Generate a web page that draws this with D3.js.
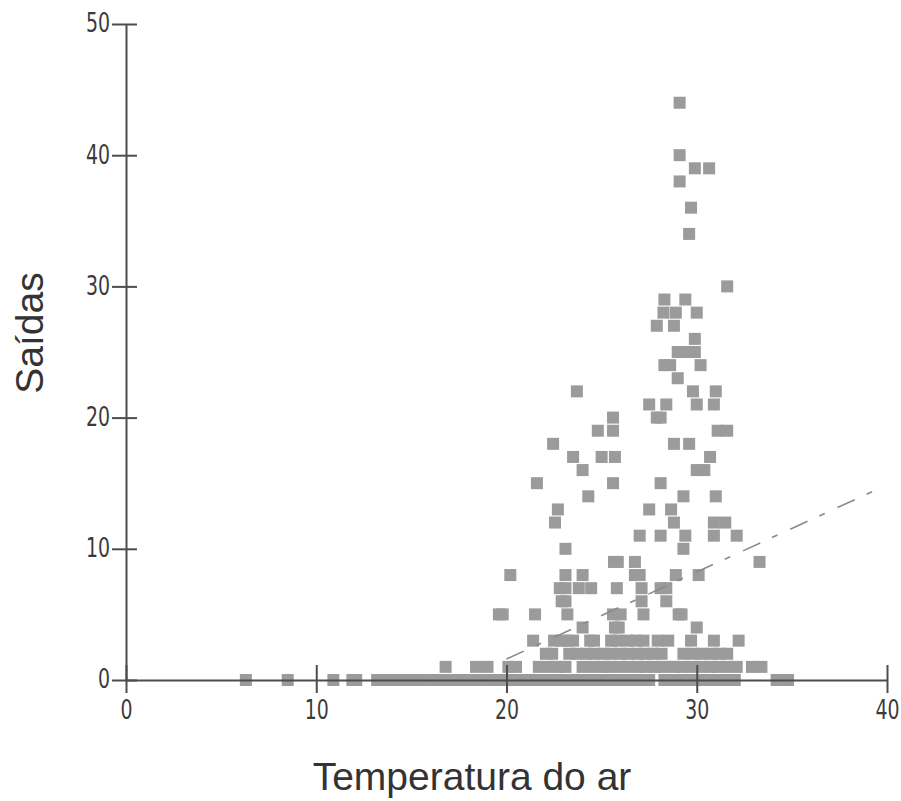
<!DOCTYPE html>
<html>
<head>
<meta charset="utf-8">
<script src="https://cdn.jsdelivr.net/npm/d3@7"></script>
<style>
  body { margin: 0; background: #fff; }
</style>
</head>
<body>
<div id="chart"></div>
<script>
// Pontos: [temperatura do ar, saídas]
const pontos = [
  // saídas = 0
  [6.3, 0], [8.5, 0], [10.9, 0], [11.9, 0], [12.1, 0], [13.2, 0], [13.6, 0], [14.1, 0], [14.7, 0],
  [15.1, 0], [15.6, 0], [16.2, 0], [16.6, 0], [17.1, 0], [17.7, 0], [18.1, 0], [18.6, 0], [19.2, 0],
  [19.6, 0], [20.1, 0], [20.7, 0], [21.1, 0], [21.6, 0], [22.2, 0], [22.6, 0], [23.1, 0], [23.7, 0],
  [24.1, 0], [24.6, 0], [25.2, 0], [25.6, 0], [26.1, 0], [26.7, 0], [27.1, 0], [27.5, 0], [28.3, 0],
  [28.7, 0], [29.2, 0], [29.8, 0], [30.2, 0], [30.7, 0], [31.2, 0], [31.6, 0], [32.0, 0], [34.2, 0],
  [34.8, 0],
  // saídas = 1
  [16.8, 1], [18.4, 1], [19.0, 1], [20.1, 1], [20.5, 1], [21.7, 1], [22.2, 1], [22.7, 1], [23.1, 1],
  [24.0, 1], [24.5, 1], [25.0, 1], [25.4, 1], [25.9, 1], [26.4, 1], [26.9, 1], [27.3, 1], [27.8, 1],
  [28.3, 1], [28.8, 1], [29.2, 1], [29.7, 1], [30.2, 1], [30.7, 1], [31.1, 1], [31.6, 1], [32.1, 1],
  [32.9, 1], [33.4, 1],
  // saídas = 2
  [22.07, 2], [22.4, 2], [23.3, 2], [23.7, 2], [24.2, 2], [24.6, 2], [25.1, 2], [25.5, 2], [26.0, 2],
  [26.4, 2], [26.9, 2], [27.3, 2], [27.7, 2], [28.15, 2], [29.3, 2], [29.8, 2], [30.3, 2], [30.8, 2],
  [31.2, 2], [31.6, 2],
  // saídas = 3
  [21.4, 3], [22.5, 3], [22.9, 3], [23.2, 3], [23.5, 3], [24.4, 3], [24.6, 3], [25.5, 3], [25.8, 3],
  [26.35, 3], [26.8, 3], [27.2, 3], [27.95, 3], [28.5, 3], [29.7, 3], [30.9, 3], [32.2, 3],
  // saídas 4 a 9
  [24.0, 4], [25.7, 4], [25.9, 4], [30.0, 4],
  [19.6, 5], [19.8, 5], [21.5, 5], [23.2, 5], [25.6, 5], [26.0, 5], [27.2, 5], [29.05, 5], [29.2, 5],
  [22.9, 6], [23.1, 6], [27.1, 6], [28.4, 6],
  [22.8, 7], [23.1, 7], [23.8, 7], [24.45, 7], [25.8, 7], [27.1, 7], [28.1, 7], [28.4, 7],
  [20.2, 8], [23.1, 8], [24.0, 8], [26.75, 8], [27.0, 8], [28.9, 8], [30.1, 8],
  [25.65, 9], [25.85, 9], [26.75, 9], [33.3, 9],
  // saídas 10 a 19
  [23.1, 10], [29.3, 10],
  [27.0, 11], [28.1, 11], [29.4, 11], [30.9, 11], [32.1, 11],
  [22.55, 12], [28.8, 12], [30.9, 12], [31.5, 12],
  [22.7, 13], [27.5, 13], [28.65, 13],
  [24.3, 14], [29.3, 14], [31.0, 14],
  [21.6, 15], [25.6, 15], [28.1, 15],
  [24.0, 16], [30.0, 16], [30.4, 16],
  [23.5, 17], [25.0, 17], [25.7, 17], [30.7, 17],
  [22.45, 18], [28.8, 18], [29.6, 18],
  [24.8, 19], [25.6, 19], [31.1, 19], [31.6, 19],
  // saídas 20 a 44
  [25.6, 20], [27.9, 20], [28.1, 20],
  [27.5, 21], [28.4, 21], [30.0, 21], [30.9, 21],
  [23.7, 22], [29.8, 22], [31.0, 22],
  [29.0, 23],
  [28.3, 24], [28.6, 24], [30.2, 24],
  [29.0, 25], [29.3, 25], [29.9, 25],
  [29.9, 26],
  [27.9, 27], [28.8, 27],
  [28.25, 28], [28.9, 28], [30.0, 28],
  [28.3, 29], [29.4, 29],
  [31.6, 30],
  [29.6, 34], [29.7, 36], [29.1, 38], [29.9, 39], [30.65, 39], [29.1, 40], [29.1, 44]
];

// Reta de tendência (extremos)
const tendencia = [[20, 1.6], [39.6, 14.6]];

const xTicks = [0, 10, 20, 30, 40];
const yTicks = [0, 10, 20, 30, 40, 50];
const tituloX = "Temperatura do ar";
const tituloY = "Saídas";

// Dimensões
const width = 901;
const height = 801;
const margin = { left: 126, top: 24, right: 14, bottom: 121 };

const svg = d3.select("#chart").append("svg")
    .attr("width", width)
    .attr("height", height);

const x = d3.scaleLinear()
    .domain([0, 40])
    .range([margin.left, width - margin.right]);

const y = d3.scaleLinear()
    .domain([0, 50])
    .range([height - margin.bottom, margin.top]);

const fonteTicks = "'Liberation Sans Narrow', 'Arial Narrow', 'DejaVu Sans Condensed', sans-serif";
const esticar = 1.25; // os números do original são altos e estreitos

// Pontos (quadrados)
const lado = 12;
svg.append("g")
    .selectAll("rect")
    .data(pontos)
    .enter()
    .append("rect")
    .attr("x", d => x(d[0]) - lado / 2)
    .attr("y", d => y(d[1]) - lado / 2)
    .attr("width", lado)
    .attr("height", lado)
    .attr("fill", "#9b9b9b");

// Linha de tendência
svg.append("path")
    .datum(tendencia)
    .attr("d", d3.line().x(d => x(d[0])).y(d => y(d[1])))
    .attr("fill", "none")
    .attr("stroke", "#8a8a8a")
    .attr("stroke-width", 1.6)
    .attr("stroke-dasharray", "19,13,6,14");

// Eixo X
const gx = svg.append("g")
    .attr("transform", `translate(0, ${y(0)})`)
    .call(d3.axisBottom(x).tickValues(xTicks).tickSize(13).tickSizeOuter(0));

gx.selectAll(".tick line").attr("y1", -15);
gx.selectAll(".tick text")
    .attr("y", 39 / esticar)
    .attr("dy", 0);

// Eixo Y
const gy = svg.append("g")
    .attr("transform", `translate(${x(0)}, 0)`)
    .call(d3.axisLeft(y).tickValues(yTicks).tickSize(14).tickPadding(2).tickSizeOuter(0));

gy.selectAll(".tick line").attr("x1", 11);
gy.selectAll(".tick text").attr("dy", "0.3em");

[gx, gy].forEach(g => {
    g.select(".domain").attr("stroke", "#4d4d4d").attr("stroke-width", 2);
    g.selectAll(".tick line").attr("stroke", "#4d4d4d").attr("stroke-width", 2);
    g.selectAll(".tick text")
        .attr("fill", "#3a3a3a")
        .attr("transform", `scale(1, ${esticar})`)
        .style("font-family", fonteTicks)
        .style("font-size", "21px");
});

// Títulos dos eixos
svg.append("text")
    .attr("x", 472)
    .attr("y", 790)
    .attr("text-anchor", "middle")
    .style("font-family", "'Liberation Sans', Arial, sans-serif")
    .style("font-size", "39px")
    .attr("fill", "#333")
    .text(tituloX);

svg.append("text")
    .attr("transform", "translate(43, 333) rotate(-90)")
    .attr("text-anchor", "middle")
    .style("font-family", "'Liberation Sans', Arial, sans-serif")
    .style("font-size", "39px")
    .attr("fill", "#333")
    .text(tituloY);
</script>
</body>
</html>
